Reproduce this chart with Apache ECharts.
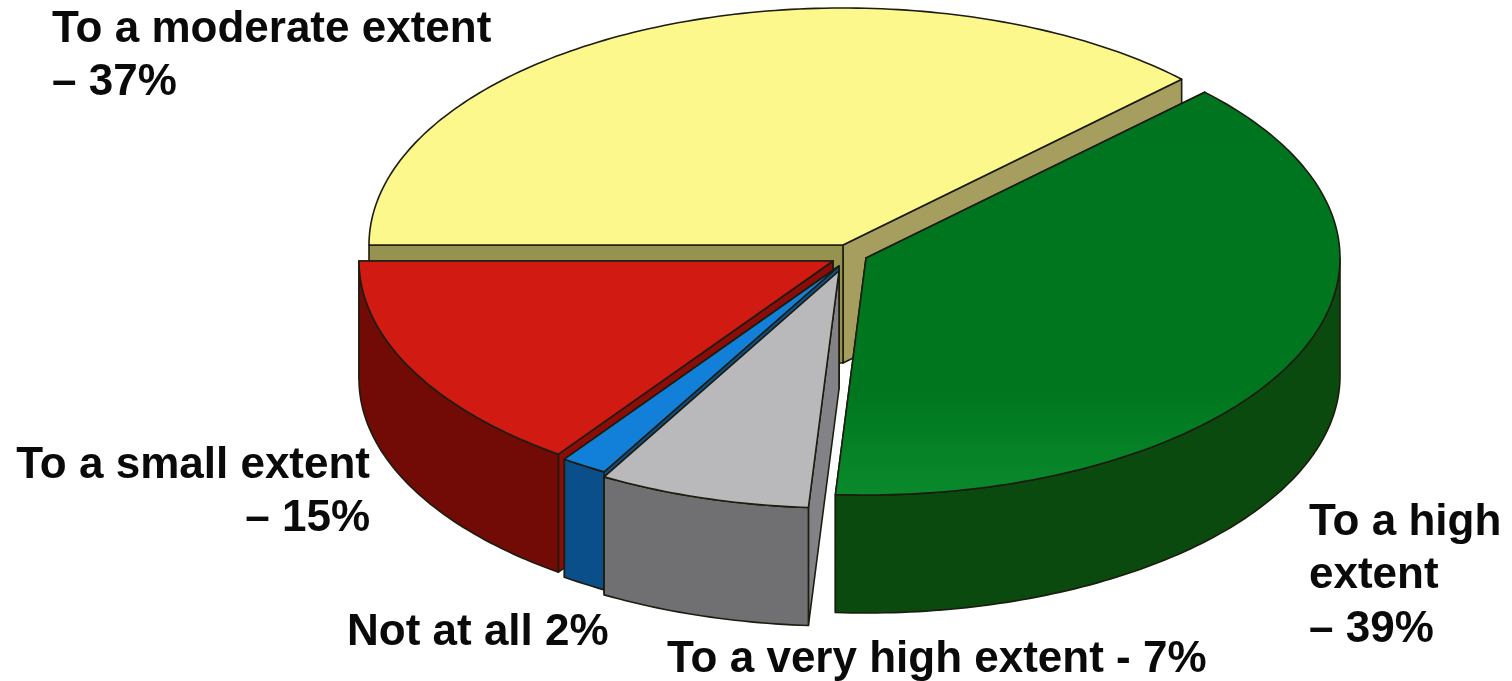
<!DOCTYPE html>
<html><head><meta charset="utf-8">
<style>html,body{margin:0;padding:0;background:#fff}#c{width:1512px;height:681px}</style>
<script src="https://cdn.jsdelivr.net/npm/echarts@6/dist/echarts.min.js"></script>
</head><body><div id="c"></div>
<script>
// Data (clockwise from the left-hand edge of the pie)
const categories = ['To a moderate extent', 'To a high extent', 'To a very high extent', 'Not at all', 'To a small extent'];
const values = [37, 39, 7, 2, 15];
const labelTexts = ['To a moderate extent\n\u2013 37%', 'To a high\nextent\n\u2013 39%', 'To a very high extent - 7%', 'Not at all 2%', 'To a small extent\n\u2013 15%'];

// Appearance and layout
const topColors = ['#fdf88c', null, '#b9b9bb', '#1280d8', '#d01a12'];
const wallColors = ['#96924f', '#0a4a0f', '#707072', '#0b4f8a', '#720a05'];
const startFaceColors = ['#96924f', '#0a4a0f', '#838387', '#0b4f8a', '#8c0d08'];
const endFaceColors = ['#a59e5e', '#0a4a0f', '#707072', '#0b4f8a', '#720a05'];
const apexes = [[843, 245], [866, 258], [839, 271], [839, 266], [833, 261]];
const drawRank = [0, 1, 4, 3, 2];
// Small angular correction of each slice's end edge for the picture's 3D projection (degrees, drawing only)
const projectionNudge = [-2.4, -0.1, -0.9, 0.6, 0];
const labelBoxes = [
  {x: 52, y: 3, align: 'left'}, {x: 1309, y: 496, align: 'left'},
  {x: 667, y: 633, align: 'left'}, {x: 347, y: 606, align: 'left'}, {x: 370, y: 439, align: 'right'}
];
const RX = 474, RY = 237, DEPTH = 118, START = 180;
const total = values.reduce((a, b) => a + b, 0);
const outline = '#1c1c10';

function pt(c, deg, dy) {
  const r = deg * Math.PI / 180;
  return [c[0] + RX * Math.cos(r), c[1] - RY * Math.sin(r) + (dy || 0)];
}
function arc(c, a0, a1, dy) {
  const out = [], n = Math.max(2, Math.ceil(Math.abs(a1 - a0)));
  for (let k = 0; k <= n; k++) out.push(pt(c, a0 + (a1 - a0) * k / n, dy));
  return out;
}
function edgeAngle(count) {
  if (count === 0) return START;
  let sum = 0;
  for (let k = 0; k < count; k++) sum += values[k];
  return START - sum / total * 360 + projectionNudge[count - 1];
}
function renderItem(params, api) {
  const i = params.dataIndex;
  const a0 = edgeAngle(i);
  const a1 = edgeAngle(i + 1);
  const c = apexes[i];
  const z = drawRank[i] * 10 + 1;
  const down = [c[0], c[1] + DEPTH];
  const poly = (points, fill, zz) => ({
    type: 'polygon', z2: zz, shape: {points},
    style: {fill, stroke: outline, lineWidth: 1.6, lineJoin: 'round'}
  });
  const kids = [];
  kids.push(poly([c, pt(c, a1), pt(c, a1, DEPTH), down], endFaceColors[i], z));
  kids.push(poly([c, pt(c, a0), pt(c, a0, DEPTH), down], startFaceColors[i], z + 1));
  if (a1 < 0) {
    const s = Math.min(a0, 0), e = Math.max(a1, -180);
    kids.push(poly(arc(c, s, e, 0).concat(arc(c, e, s, DEPTH)), wallColors[i], z + 2));
  }
  const topFill = topColors[i] || new echarts.graphic.LinearGradient(0, 0, 0, 1, [
    {offset: 0, color: '#00741f'}, {offset: 0.75, color: '#00771f'}, {offset: 1, color: '#0a8a2c'}
  ]);
  kids.push(poly([c].concat(arc(c, a0, a1, 0)), topFill, z + 3));
  const b = labelBoxes[i];
  kids.push({
    type: 'text', z2: 100,
    style: {text: labelTexts[i], x: b.x, y: b.y, align: b.align, verticalAlign: 'top',
      fontFamily: '"Liberation Sans", Arial, sans-serif', fontWeight: 'bold', fontSize: 44, lineHeight: 53.5, fill: '#0a0a0a'}
  });
  return {type: 'group', children: kids};
}
const chart = echarts.init(document.getElementById('c'), null, {renderer: 'canvas'});
chart.setOption({
  animation: false,
  backgroundColor: '#fff',
  series: [{
    type: 'custom', coordinateSystem: 'none', silent: true,
    renderItem,
    data: categories.map((name, i) => ({name, value: [i, values[i]]}))
  }]
});
</script></body></html>
